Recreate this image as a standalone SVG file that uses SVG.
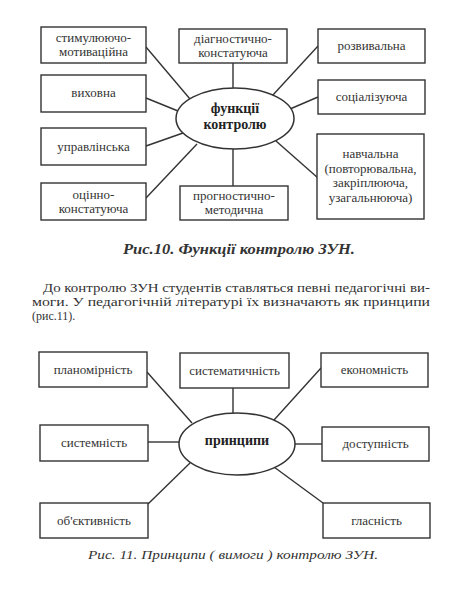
<svg xmlns="http://www.w3.org/2000/svg" width="470" height="610" viewBox="0 0 470 610">
<style>
.box{fill:#fff;stroke:#333;stroke-width:1.4}
.ell{fill:#fff;stroke:#333;stroke-width:1.5}
.ln{stroke:#333;stroke-width:1.4;fill:none}
.t{font-family:'Liberation Serif',serif;font-size:13px;fill:#333;text-anchor:middle}
.b{font-weight:bold;font-size:14px;fill:#222}
.cap{font-family:'Liberation Serif',serif;font-style:italic;fill:#333;text-anchor:middle}
.p{font-family:'Liberation Serif',serif;font-size:12px;fill:#333}
</style>
<rect width="470" height="610" fill="#fff"/>

<g id="connectors1">
<line class="ln" x1="146" y1="47" x2="190" y2="99"/>
<line class="ln" x1="146" y1="98" x2="178" y2="111"/>
<line class="ln" x1="146" y1="146" x2="183" y2="133"/>
<line class="ln" x1="146" y1="198" x2="197" y2="144"/>
<line class="ln" x1="233" y1="63" x2="233" y2="88"/>
<line class="ln" x1="233" y1="149" x2="233" y2="186"/>
<line class="ln" x1="272" y1="96" x2="318" y2="46"/>
<line class="ln" x1="290" y1="109" x2="318" y2="97"/>
<line class="ln" x1="276" y1="141" x2="318" y2="178"/>
</g>

<g id="f-stymul"><rect class="box" x="41" y="27" width="105" height="36"/><text class="t" x="93.5" y="42">стимулюючо-</text><text class="t" x="93.5" y="56">мотиваційна</text></g>
<g id="f-vykhovna"><rect class="box" x="41" y="75" width="105" height="37"/><text class="t" x="93.5" y="97">виховна</text></g>
<g id="f-upravl"><rect class="box" x="41" y="128" width="105" height="37"/><text class="t" x="93.5" y="151">управлінська</text></g>
<g id="f-otsinno"><rect class="box" x="41" y="183" width="105" height="37"/><text class="t" x="93.5" y="199">оцінно-</text><text class="t" x="93.5" y="213">констатуюча</text></g>
<g id="f-diagn"><rect class="box" x="179" y="29" width="108" height="34"/><text class="t" x="233" y="43">діагностично-</text><text class="t" x="233" y="57">констатуюча</text></g>
<g id="f-progn"><rect class="box" x="180" y="186" width="108" height="34"/><text class="t" x="234" y="200">прогностично-</text><text class="t" x="234" y="214">методична</text></g>
<g id="f-rozv"><rect class="box" x="318" y="29" width="107" height="34"/><text class="t" x="371.5" y="50">розвивальна</text></g>
<g id="f-sots"><rect class="box" x="318" y="80" width="107" height="34"/><text class="t" x="371.5" y="101">соціалізуюча</text></g>
<g id="f-navch"><rect class="box" x="317" y="134" width="107" height="85"/><text class="t" x="370.5" y="158">навчальна</text><text class="t" x="370.5" y="172.5">(повторювальна,</text><text class="t" x="370.5" y="187">закріплююча,</text><text class="t" x="370.5" y="201.5">узагальнююча)</text></g>
<g id="f-center"><ellipse class="ell" cx="235" cy="118.5" rx="59" ry="30.5"/><text class="t b" x="235" y="113">функції</text><text class="t b" x="235" y="129">контролю</text></g>

<text class="cap" x="239" y="254" font-size="14" font-weight="bold" textLength="232" lengthAdjust="spacingAndGlyphs">Рис.10. Функції контролю ЗУН.</text>

<text class="p" x="43" y="292" textLength="387" lengthAdjust="spacingAndGlyphs">До контролю ЗУН студентів ставляться певні педагогічні ви-</text>
<text class="p" x="32" y="306" textLength="398" lengthAdjust="spacingAndGlyphs">моги. У педагогічній літературі їх визначають як принципи</text>
<text class="p" x="32" y="320">(рис.11).</text>

<g id="connectors2">
<line class="ln" x1="147" y1="372" x2="192" y2="423"/>
<line class="ln" x1="233" y1="388" x2="233" y2="413"/>
<line class="ln" x1="148" y1="442" x2="179" y2="442"/>
<line class="ln" x1="148" y1="504" x2="190" y2="463"/>
<line class="ln" x1="274" y1="420" x2="321" y2="368"/>
<line class="ln" x1="295" y1="444" x2="322" y2="444"/>
<line class="ln" x1="274" y1="467" x2="323" y2="503"/>
</g>

<g id="p-planom"><rect class="box" x="39" y="352" width="108" height="35"/><text class="t" x="93" y="374">планомірність</text></g>
<g id="p-system"><rect class="box" x="180" y="353" width="109" height="35"/><text class="t" x="234.5" y="375">систематичність</text></g>
<g id="p-ekonom"><rect class="box" x="321" y="353" width="107" height="34"/><text class="t" x="374.5" y="374">економність</text></g>
<g id="p-systemn"><rect class="box" x="40" y="425" width="108" height="36"/><text class="t" x="94" y="447">системність</text></g>
<g id="p-dostup"><rect class="box" x="322" y="427" width="107" height="34"/><text class="t" x="375.5" y="448">доступність</text></g>
<g id="p-obiekt"><rect class="box" x="40" y="503" width="108" height="35"/><text class="t" x="94" y="525">об'єктивність</text></g>
<g id="p-hlasn"><rect class="box" x="323" y="503" width="107" height="35"/><text class="t" x="376.5" y="525">гласність</text></g>
<g id="p-center"><ellipse class="ell" cx="237" cy="444" rx="58" ry="31"/><text class="t b" x="237" y="445">принципи</text></g>

<text class="cap" x="233" y="559" font-size="13.5" textLength="290" lengthAdjust="spacingAndGlyphs">Рис. 11. Принципи ( вимоги ) контролю ЗУН.</text>
</svg>
